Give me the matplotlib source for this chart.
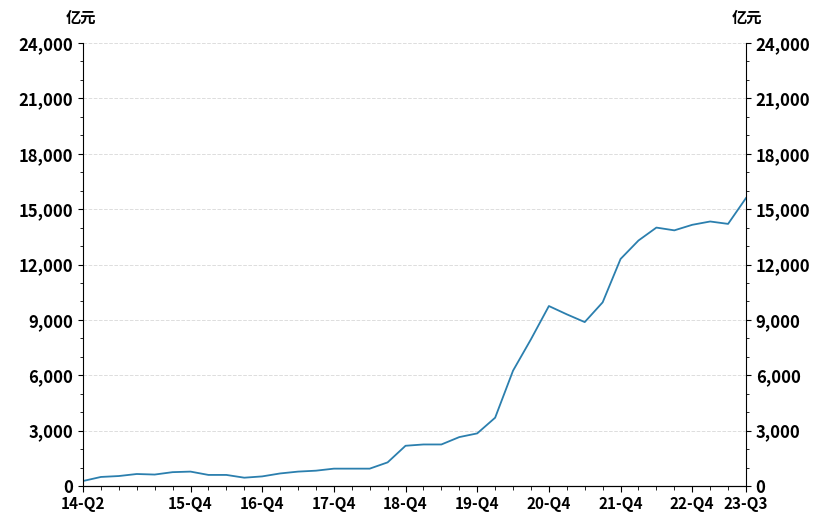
import matplotlib
matplotlib.use("Agg")
import matplotlib.pyplot as plt
from matplotlib.ticker import FuncFormatter, MultipleLocator

plt.rcParams['font.family'] = ['Noto Sans CJK SC', 'DejaVu Sans']

quarters = []
for y in range(14, 24):
    for q in range(1, 5):
        quarters.append(f"{y}-Q{q}")
quarters = quarters[1:-1]  # 14-Q2 .. 23-Q3
values = [270, 490, 540, 650, 620, 750, 780, 600, 600, 450, 520, 680, 780, 830, 940, 940, 940,
          1280, 2180, 2250, 2250, 2650, 2850, 3700, 6250, 7950, 9750, 9300, 8880, 9950, 12300,
          13300, 14000, 13850, 14150, 14330, 14200, 15600]
label_idx = [0, 6, 10, 14, 18, 22, 26, 30, 34, 37]

fig = plt.figure(figsize=(8.3, 5.22), dpi=100)
ax = fig.add_axes([83/830, 36/522, (746-83)/830, (486-43)/522])
x = list(range(len(values)))
ax.plot(x, values, color='#2b7fae', lw=1.3)
ax.set_xlim(0, len(values)-1)
ax.set_ylim(0, 24000)
ax.yaxis.set_major_locator(MultipleLocator(3000))
fmt = FuncFormatter(lambda v, p: f"{int(v):,}")
ax.yaxis.set_major_formatter(fmt)
ax.grid(axis='y', color='#dddddd', ls='--', lw=0.7)
ax.set_xticks(x, minor=True)
ax.set_xticks(label_idx)
ax.set_xticklabels([quarters[i] for i in label_idx], fontsize=11, fontweight='bold')
ax.tick_params(axis='x', which='minor', length=3)
ax.tick_params(axis='x', which='major', length=4)
for s in ['top']:
    ax.spines[s].set_visible(False)
ax.spines['right'].set_visible(False)
for lab in ax.get_yticklabels():
    lab.set_fontsize(12); lab.set_fontweight('bold')
ax2 = ax.twinx()
ax2.set_ylim(0, 24000)
ax2.yaxis.set_major_locator(MultipleLocator(3000))
ax2.yaxis.set_major_formatter(fmt)
ax2.spines['top'].set_visible(False)
ax2.spines['left'].set_visible(False)
for lab in ax2.get_yticklabels():
    lab.set_fontsize(12); lab.set_fontweight('bold')
ax.yaxis.set_minor_locator(MultipleLocator(1000))
ax2.yaxis.set_minor_locator(MultipleLocator(1000))
fig.text(66/830, 1-18/522, '亿元', fontsize=11, fontweight='bold', va='center')
fig.text(732/830, 1-18/522, '亿元', fontsize=11, fontweight='bold', va='center')
fig.savefig('out.png', dpi=100)
